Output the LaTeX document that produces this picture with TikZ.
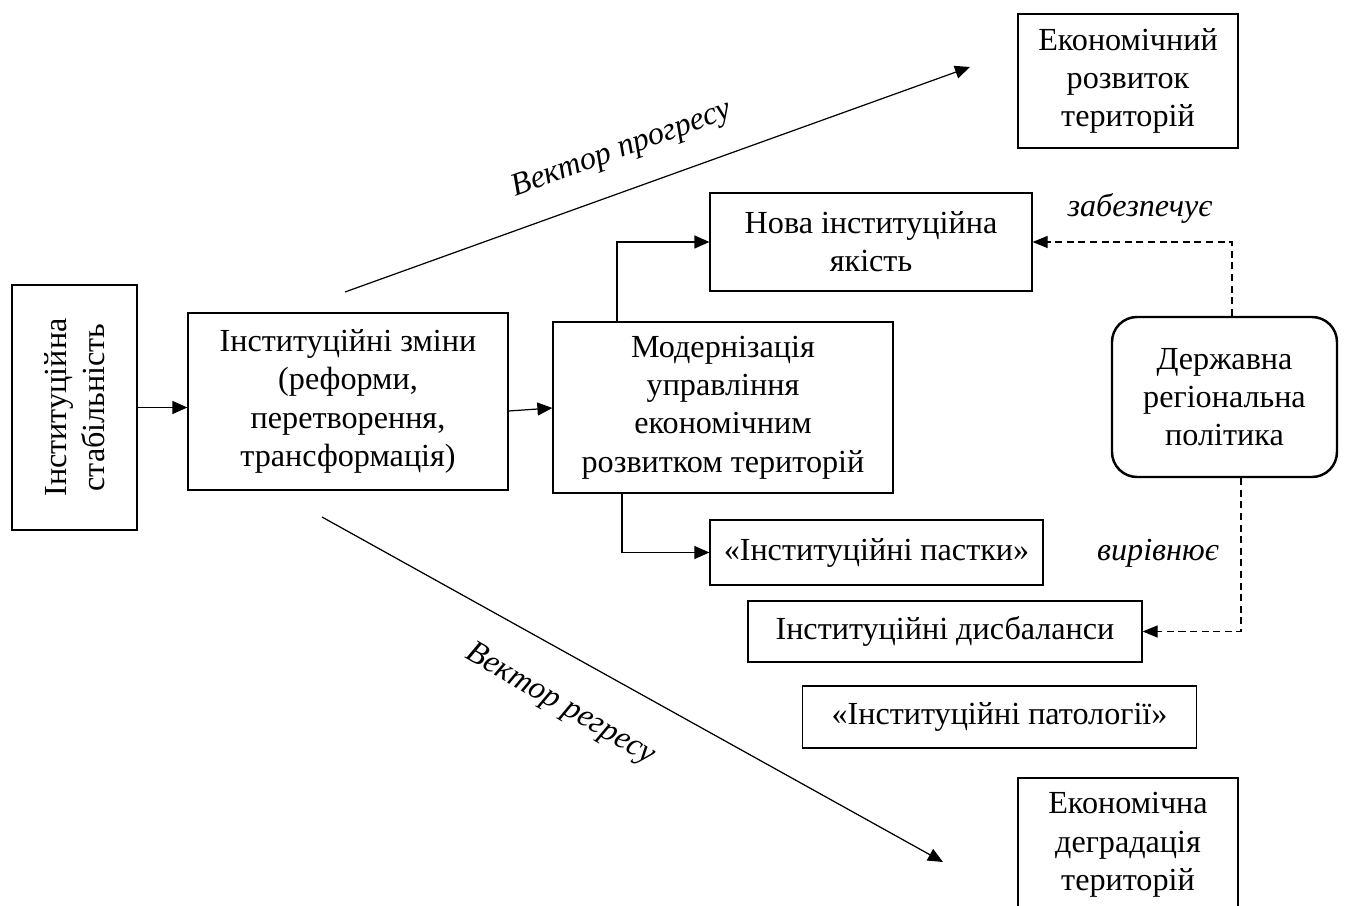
\documentclass[tikz,border=0pt]{standalone}
\usepackage{fontspec}
\setmainfont{Liberation Serif}
\usepackage{tikz}
\usetikzlibrary{arrows.meta}

\tikzset{
  box/.style={draw, line width=0.7pt, align=center, inner sep=2pt},
  arr/.style={line width=0.7pt, -{Triangle[length=0.3cm, width=0.26cm]}},
  darr/.style={line width=0.7pt, dash pattern=on 4pt off 2.6pt, -{Triangle[length=0.3cm, width=0.24cm]}},
  lbl/.style={font=\fontsize{18.3}{21.8}\selectfont\itshape}
}

\begin{document}
\begin{tikzpicture}[font=\fontsize{18.3}{21.8}\selectfont]
    \useasboundingbox (0,0) rectangle (26.92,18.12);
    \clip (0,0) rectangle (26.92,18.12);
    % Left column
    \node[box, rotate=90, minimum width=4.9cm, minimum height=2.5cm] (stab) at (1.49,9.97) {Інституційна\\стабільність};
    \node[box, minimum width=6.4cm, minimum height=3.54cm] (change) at (6.96,10.09) {Інституційні зміни\\(реформи,\\перетворення,\\трансформація)};
    \draw[arr] (stab.south) -- (stab.south -| change.west);
    % Modernisation
    \node[box, minimum width=6.8cm, minimum height=3.42cm] (modern) at (14.46,9.97) {Модернізація\\управління\\економічним\\розвитком територій};
    \draw[arr] ([yshift=-0.19cm]change.east) -- ([yshift=-0.01cm]modern.west);
    % Outcomes of modernisation
    \node[box, minimum width=6.44cm, minimum height=1.96cm] (nova) at (17.42,13.28) {Нова інституційна\\якість};
    \node[box, minimum width=6.66cm, minimum height=1.3cm] (traps) at (17.53,7.07) {«Інституційні пастки»};
    \node[box, minimum width=7.88cm, minimum height=1.22cm] (disb) at (18.9,5.49) {Інституційні дисбаланси};
    \node[box, minimum width=7.88cm, minimum height=1.24cm] (patol) at (19.99,3.78) {«Інституційні патології»};
    \draw[arr] ([xshift=-2.12cm]modern.north) |- (nova.west);
    \draw[arr] ([xshift=-2.02cm]modern.south) |- (traps.west);
    % Regional policy
    \node[box, rounded corners=0.5cm, line width=1.4pt, minimum width=4.5cm, minimum height=3.2cm] (policy) at (24.49,10.18) {Державна\\регіональна\\політика};
    \draw[darr] ([xshift=0.15cm]policy.north) |- (nova.east);
    \draw[darr] ([xshift=0.33cm]policy.south) |- (disb.east);
    \node[lbl] (zab) at (22.8,13.96) {забезпечує};
    \node[lbl] (vyr) at (23.16,7.06) {вирівнює};
    % Vectors
    \node[box, minimum width=4.4cm, minimum height=2.68cm] (rozv) at (22.56,16.5) {Економічний\\розвиток\\територій};
    \node[box, minimum width=4.4cm, minimum height=2.68cm] (degr) at (22.56,1.22) {Економічна\\деградація\\територій};
    \coordinate (progS) at (6.9,12.28);
    \coordinate (progE) at (19.4,16.78);
    \coordinate (regrS) at (6.44,7.78);
    \coordinate (regrE) at (18.86,0.88);
    \draw[arr] (progS) -- (progE);
    \draw[arr] (regrS) -- (regrE);
    \node[lbl, rotate=20] (prog) at (12.44,15.12) {Вектор прогресу};
    \node[lbl, rotate=-30] (regr) at (11.2,4.02) {Вектор регресу};
\end{tikzpicture}
\end{document}
